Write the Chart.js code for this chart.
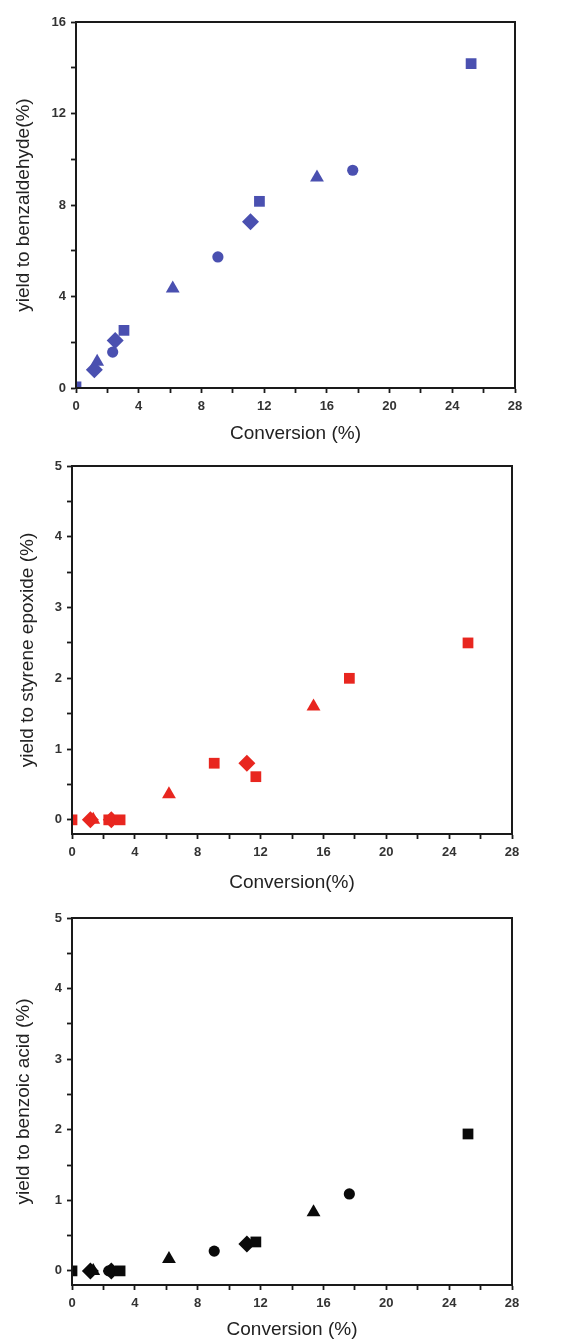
<!DOCTYPE html>
<html>
<head>
<meta charset="utf-8">
<script src="https://cdn.jsdelivr.net/npm/chart.js"></script>
<style>
  html, body { margin: 0; padding: 0; background: #fff; }
  .box { position: relative; width: 577px; }
</style>
</head>
<body>
<div class="box" style="height:445px"><canvas id="c1"></canvas></div>
<div class="box" style="height:450px"><canvas id="c2"></canvas></div>
<div class="box" style="height:446px"><canvas id="c3"></canvas></div>
<script>
// conversion (%) of each catalyst series
const convSquare = [0, 3.06, 11.7, 25.2];
const convCircle = [2.34, 9.05, 17.65];
const convTriangle = [1.35, 6.17, 15.37];
const convDiamond = [1.17, 2.5, 11.13];

// yield to benzaldehyde (%)
const benzSquare = [0.05, 2.52, 8.16, 14.18];
const benzCircle = [1.57, 5.73, 9.52];
const benzTriangle = [1.15, 4.35, 9.2];
const benzDiamond = [0.8, 2.08, 7.27];

// yield to styrene epoxide (%)
const epoxSquare = [0, 0, 0.61, 2.5];
const epoxCircle = [0, 0.8, 2.0];
const epoxTriangle = [0, 0.36, 1.6];
const epoxDiamond = [0, 0, 0.8];

// yield to benzoic acid (%)
const acidSquare = [0, 0, 0.41, 1.94];
const acidCircle = [0, 0.28, 1.09];
const acidTriangle = [0, 0.17, 0.83];
const acidDiamond = [0, 0, 0.38];

const xLabels = [0, 4, 8, 12, 16, 20, 24, 28];
const yLabels1 = [0, 4, 8, 12, 16];
const yLabels2 = [0, 1, 2, 3, 4, 5];

const FONT = 'Liberation Sans, Arial, sans-serif';
const INK = '#1a1a1a';

const framePlugin = {
  id: 'frame',
  afterDatasetsDraw(chart) {
    const a = chart.chartArea;
    const ctx = chart.ctx;
    ctx.save();
    ctx.strokeStyle = INK;
    ctx.lineWidth = 2;
    ctx.strokeRect(a.left, a.top, a.right - a.left, a.bottom - a.top);
    ctx.restore();
  }
};

function pts(xs, ys) {
  return xs.map((x, i) => ({ x: x, y: ys[i] }));
}

function series(xs, ys, color, style) {
  const radius = { rect: 7.6, circle: 5.6, triangle: 8, rectRot: 8.5 }[style];
  return {
    data: pts(xs, ys),
    pointStyle: style,
    pointRadius: radius,
    pointBorderWidth: 0,
    backgroundColor: color,
    borderColor: color,
    showLine: false,
    clip: 0
  };
}

function makeChart(id, cfg) {
  new Chart(document.getElementById(id), {
    type: 'scatter',
    data: { datasets: cfg.datasets },
    options: {
      responsive: true,
      maintainAspectRatio: false,
      animation: false,
      layout: { padding: { top: cfg.top, right: cfg.right, left: 0, bottom: 0 } },
      plugins: { legend: { display: false }, tooltip: { enabled: false } },
      scales: {
        x: {
          type: 'linear', min: 0, max: 28,
          afterFit: s => { s.height = cfg.xh; },
          border: { color: INK, width: 2 },
          grid: { drawOnChartArea: false, tickLength: 5, tickColor: INK, tickWidth: 1.8 },
          ticks: {
            stepSize: 2, padding: 6, color: '#333', maxRotation: 0, autoSkip: false,
            includeBounds: false, font: { size: 13, family: FONT, weight: 'bold' },
            callback: v => xLabels.includes(v) ? String(v) : ''
          },
          title: {
            display: true, text: cfg.xTitle, color: '#222',
            font: { size: 19, family: FONT }, padding: { top: 0, bottom: cfg.xtp }
          }
        },
        y: {
          type: 'linear', min: cfg.ymin, max: cfg.ymax,
          afterFit: s => { s.width = cfg.yw; },
          border: { color: INK, width: 2 },
          grid: { drawOnChartArea: false, tickLength: 5, tickColor: INK, tickWidth: 1.8 },
          ticks: {
            stepSize: cfg.ystep, padding: 5, color: '#333', autoSkip: false,
            includeBounds: false, font: { size: 13, family: FONT, weight: 'bold' },
            callback: v => cfg.yLabels.includes(v) ? String(v) : ''
          },
          title: {
            display: true, text: cfg.yTitle, color: '#222',
            font: { size: 19, family: FONT }, padding: { top: cfg.ytp, bottom: 0 }
          }
        }
      }
    },
    plugins: [framePlugin]
  });
}

const BLUE = '#4a50b0';
const RED = '#e8261f';
const BLACK = '#0a0a0a';

makeChart('c1', {
  top: 22, right: 62, yw: 76, xh: 57, xtp: 0, ytp: 12,
  ymin: 0, ymax: 16, ystep: 2, yLabels: yLabels1,
  xTitle: 'Conversion (%)', yTitle: 'yield to benzaldehyde(%)',
  datasets: [
    series(convSquare, benzSquare, BLUE, 'rect'),
    series(convCircle, benzCircle, BLUE, 'circle'),
    series(convTriangle, benzTriangle, BLUE, 'triangle'),
    series(convDiamond, benzDiamond, BLUE, 'rectRot')
  ]
});

makeChart('c2', {
  top: 21, right: 65, yw: 72, xh: 61, xtp: 1, ytp: 16,
  ymin: -0.2, ymax: 5, ystep: 0.5, yLabels: yLabels2,
  xTitle: 'Conversion(%)', yTitle: 'yield to styrene epoxide (%)',
  datasets: [
    series(convSquare, epoxSquare, RED, 'rect'),
    series(convCircle, epoxCircle, RED, 'rect'),
    series(convTriangle, epoxTriangle, RED, 'triangle'),
    series(convDiamond, epoxDiamond, RED, 'rectRot')
  ]
});

makeChart('c3', {
  top: 23, right: 65, yw: 72, xh: 56, xtp: 0, ytp: 12,
  ymin: -0.2, ymax: 5, ystep: 0.5, yLabels: yLabels2,
  xTitle: 'Conversion (%)', yTitle: 'yield to benzoic acid (%)',
  datasets: [
    series(convSquare, acidSquare, BLACK, 'rect'),
    series(convCircle, acidCircle, BLACK, 'circle'),
    series(convTriangle, acidTriangle, BLACK, 'triangle'),
    series(convDiamond, acidDiamond, BLACK, 'rectRot')
  ]
});
</script>
</body>
</html>
